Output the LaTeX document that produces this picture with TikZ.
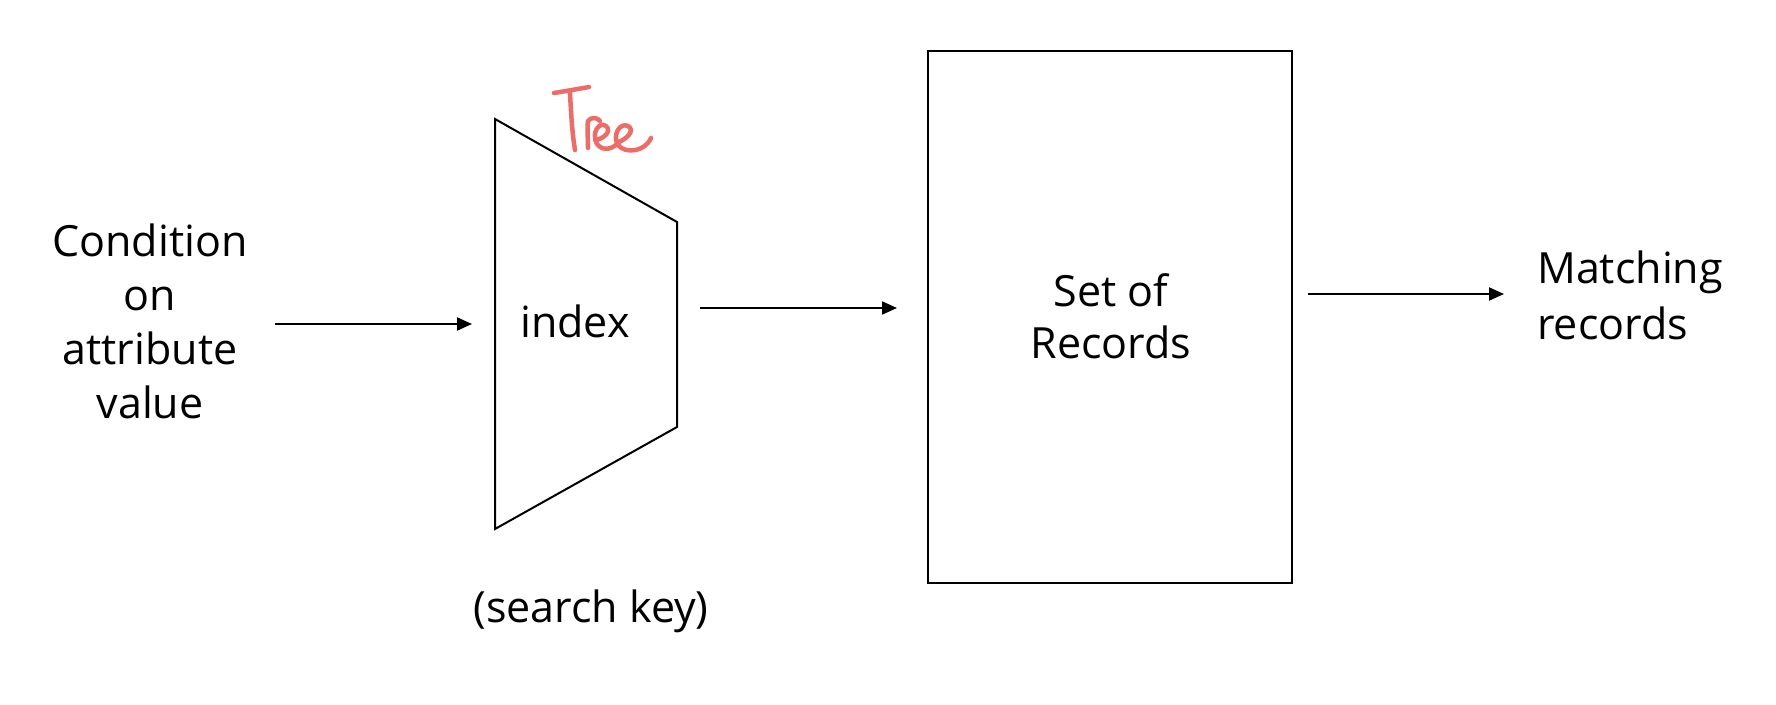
\documentclass[tikz,border=0pt]{standalone}
\usepackage{fontspec}
\setmainfont{Open Sans}
\usetikzlibrary{arrows.meta}
\definecolor{penred}{RGB}{236,108,104}
\tikzset{
  lbl/.style={inner sep=0pt, font=\fontsize{43}{54}\selectfont},
  shapeline/.style={draw=black, line width=2pt, line join=miter},
  conn/.style={draw=black, line width=2pt, -{Triangle[length=15pt,width=13pt]}},
  pen/.style={draw=penred, line width=4.5pt, line cap=round, line join=round}
}
\begin{document}
\begin{tikzpicture}[x=1pt,y=-1pt]
\useasboundingbox (0,0) rectangle (1776,704);
% trapezoid (index)
\coordinate (tl) at (495,119);
\coordinate (tr) at (677,222);
\coordinate (br) at (677,427);
\coordinate (bl) at (495,529);
\draw[shapeline] (tl) -- (tr) -- (br) -- (bl) -- cycle;
% records box
\node[shapeline, minimum width=364pt, minimum height=532pt, inner sep=0pt] (rec) at (1110,317) {};
% texts
\node[lbl, align=center] (cond) at (150,321) {Condition\\on\\attribute\\value};
\node[lbl, anchor=base] (idx) at (575,337) {index};
\node[lbl, anchor=base] (skey) at (591,622) {(search key)};
\node[lbl, align=center, font=\fontsize{43}{52}\selectfont] (sor) at (1111,316) {Set of\\Records};
\node[lbl, align=left, anchor=west, font=\fontsize{43}{56}\selectfont] (match) at (1537,295) {Matching\\records};
% connectors
\coordinate (a1s) at (275,324); \coordinate (a1e) at (472,324);
\coordinate (a2s) at (700,308); \coordinate (a2e) at (897,308);
\coordinate (a3s) at (1308,294); \coordinate (a3e) at (1504,294);
\draw[conn] (a1s) -- (a1e);
\draw[conn] (a2s) -- (a2e);
\draw[conn] (a3s) -- (a3e);
% handwritten "Tree"
\draw[pen] (554,93) .. controls (566,91) and (578,89) .. (589,87);
\draw[pen] (570,93) .. controls (571,112) and (572,132) .. (575,150);
\draw[pen] (588,148) .. controls (588,138) and (587,128) .. (588,121)
  .. controls (591,117) and (597,117) .. (600,121);
\draw[pen] (595,140) .. controls (604,139) and (612,131) .. (606,126)
  .. controls (599,121) and (591,133) .. (597,144)
  .. controls (603,152) and (613,149) .. (619,142)
  .. controls (628,138) and (635,130) .. (628,126)
  .. controls (620,122) and (612,135) .. (618,145)
  .. controls (625,154) and (645,152) .. (651,138);
\end{tikzpicture}
\end{document}
